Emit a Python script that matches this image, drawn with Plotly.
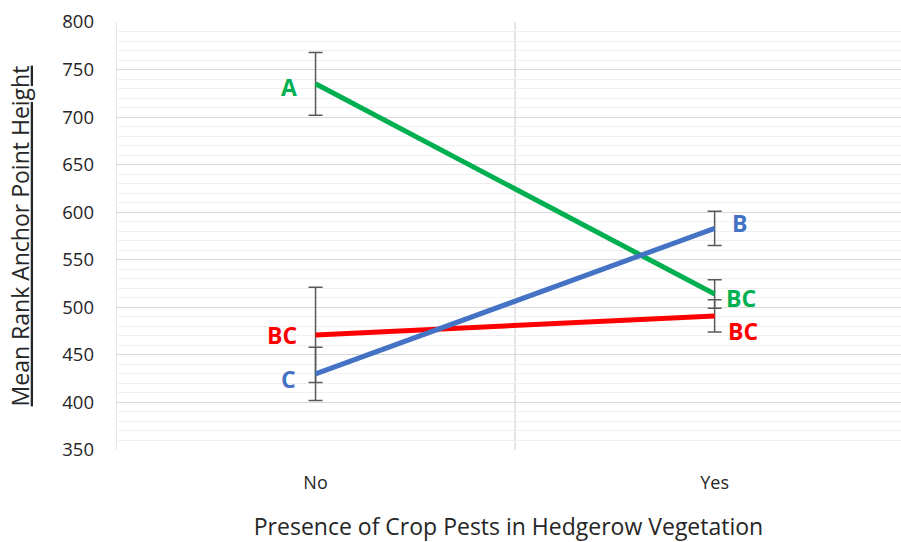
import plotly.graph_objects as go

# Category positions on the x axis
categories = ["No", "Yes"]
x_pos = [0, 1]

# Mean rank anchor point height per group
green_vals = [735, 514]
red_vals = [471, 491]
blue_vals = [430, 583]

# Error bar half-widths
green_err = [33, 15]
red_err = [50, 17]
blue_err = [28, 18]

# Letter groupings shown beside each point
green_letters = ["A", "BC"]
red_letters = ["BC", "BC"]
blue_letters = ["C", "B"]

GREEN = "#00B050"
RED = "#FF0000"
BLUE = "#4472C4"
ERR = "#595959"
TEXT = "#262626"
FONT = "Open Sans"

fig = go.Figure()

for vals, errs, color in [(green_vals, green_err, GREEN),
                          (red_vals, red_err, RED),
                          (blue_vals, blue_err, BLUE)]:
    fig.add_trace(go.Scatter(
        x=x_pos, y=vals, mode="lines",
        line=dict(color=color, width=5),
        error_y=dict(type="data", array=errs, visible=True,
                     color=ERR, thickness=1.5, width=7),
        showlegend=False, hoverinfo="skip",
    ))

# Letter annotations: left of "No" points, right of "Yes" points
label_specs = [
    (green_vals, green_letters, GREEN, [(-27, -3), (9, -4)]),
    (red_vals, red_letters, RED, [(-34, 0), (11, -15)]),
    (blue_vals, blue_letters, BLUE, [(-27, -5), (15, 5)]),
]
for vals, letters, color, shifts in label_specs:
    for i, (v, t) in enumerate(zip(vals, letters)):
        dx, dy = shifts[i]
        fig.add_annotation(
            x=x_pos[i], y=v, text=f"<b>{t}</b>", showarrow=False,
            xanchor="center" if i == 0 else "left", yanchor="middle",
            xshift=dx, yshift=dy,
            font=dict(family=FONT, size=23, color=color),
        )

fig.update_layout(
    width=901, height=542,
    margin=dict(l=116, r=0, t=22, b=92),
    plot_bgcolor="white", paper_bgcolor="white",
    font=dict(family=FONT, size=19, color=TEXT),
    xaxis=dict(
        range=[-0.5, 1.467], tickvals=x_pos, ticktext=categories,
        showgrid=False, zeroline=False, ticks="",
        ticklabelstandoff=20,
        tickfont=dict(size=18, color=TEXT),
        title=dict(text="Presence of Crop Pests in Hedgerow Vegetation",
                   font=dict(size=23, color=TEXT), standoff=26),
    ),
    yaxis=dict(
        range=[350, 800], dtick=50, tick0=350,
        gridcolor="#d9d9d9", gridwidth=1.3,
        zeroline=False, showline=False, ticks="",
        ticklabelstandoff=21,
        tickfont=dict(size=18.5, color=TEXT),
        minor=dict(dtick=10, tick0=350, showgrid=True,
                   gridcolor="#f0f0f0", gridwidth=1),
        title=dict(text="<u>Mean Rank Anchor Point Height</u>",
                   font=dict(size=23, color=TEXT), standoff=26),
    ),
)

# Vertical category dividers
for xv in [-0.5, 0.5]:
    fig.add_shape(type="line", xref="x", yref="y", x0=xv, x1=xv,
                  y0=350, y1=800, line=dict(color="#d9d9d9", width=1.3),
                  layer="below")

fig.write_html("out.html")
